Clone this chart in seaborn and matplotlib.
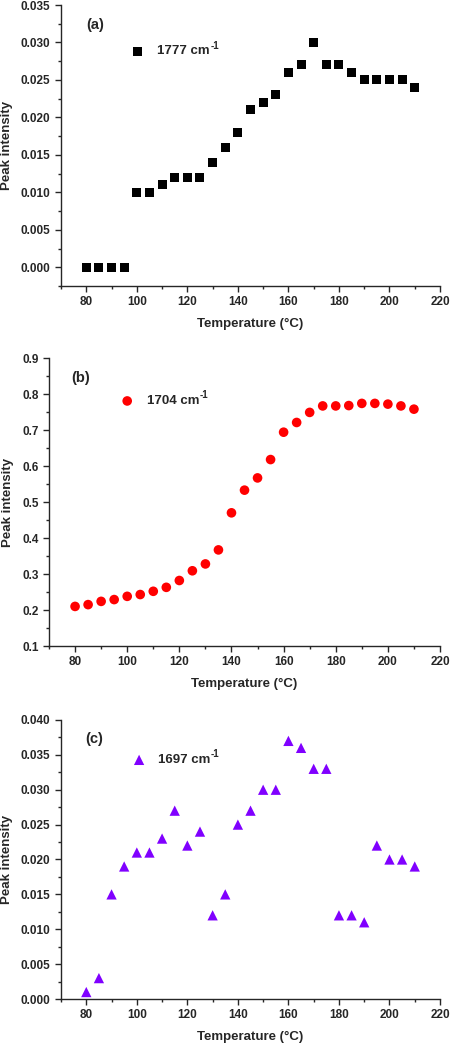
import numpy as np
import pandas as pd
import matplotlib
matplotlib.use("Agg")
import matplotlib.pyplot as plt
import seaborn as sns
from matplotlib.ticker import MultipleLocator, FormatStrFormatter
from matplotlib.transforms import offset_copy

# Data
temperature = [80, 85, 90, 95, 100, 105, 110, 115, 120, 125, 130, 135, 140, 145,
               150, 155, 160, 165, 170, 175, 180, 185, 190, 195, 200, 205, 210]
peak_1777 = [0.000, 0.000, 0.000, 0.000, 0.010, 0.010, 0.011, 0.012, 0.012, 0.012,
             0.014, 0.016, 0.018, 0.021, 0.022, 0.023, 0.026, 0.027, 0.030, 0.027,
             0.027, 0.026, 0.025, 0.025, 0.025, 0.025, 0.024]
peak_1704 = [0.210, 0.215, 0.224, 0.229, 0.238, 0.243, 0.252, 0.263, 0.282, 0.309,
             0.328, 0.367, 0.470, 0.533, 0.567, 0.618, 0.694, 0.721, 0.749, 0.767,
             0.767, 0.768, 0.774, 0.774, 0.772, 0.767, 0.758]
peak_1697 = [0.001, 0.003, 0.015, 0.019, 0.021, 0.021, 0.023, 0.027, 0.022, 0.024,
             0.012, 0.015, 0.025, 0.027, 0.030, 0.030, 0.037, 0.036, 0.033, 0.033,
             0.012, 0.012, 0.011, 0.022, 0.020, 0.020, 0.019]
wavenumbers = ['1777', '1704', '1697']
tags = ['(a)', '(b)', '(c)']

sns.set_style("ticks")
plt.rcParams['font.family'] = ['Liberation Sans', 'DejaVu Sans']
plt.rcParams['font.weight'] = 'bold'

fig = plt.figure(figsize=(4.5, 10.46), dpi=100)
renderer = fig.canvas.get_renderer()

# panel geometry (figure fractions), styles, label/legend positions
panels = [
    dict(rect=[0.1356, 0.7266, 0.8422, 0.2686], y=peak_1777, marker='s', color='black',
         s=42, ylim=(-0.0025, 0.035), major=0.005, minor=0.0025, fmt='%.3f',
         tagpos=(0.066, 0.929), legpos=(0.203, 0.836)),
    dict(rect=[0.1089, 0.3824, 0.8689, 0.2753], y=peak_1704, marker='o', color='#ff0000',
         s=48, ylim=(0.1, 0.9), major=0.1, minor=0.05, fmt='%.1f',
         tagpos=(0.058, 0.93), legpos=(0.2, 0.851)),
    dict(rect=[0.1356, 0.0449, 0.8422, 0.2668], y=peak_1697, marker='^', color='#8000ff',
         s=55, ylim=(0.0, 0.04), major=0.005, minor=0.0025, fmt='%.3f',
         tagpos=(0.063, 0.932), legpos=(0.206, 0.857)),
]

for p, wn, tag in zip(panels, wavenumbers, tags):
    ax = fig.add_axes(p['rect'])
    df = pd.DataFrame({'Temperature': temperature, 'Intensity': p['y']})
    sns.scatterplot(data=df, x='Temperature', y='Intensity', marker=p['marker'],
                    color=p['color'], s=p['s'], edgecolor='none', ax=ax, legend=False,
                    zorder=3, clip_on=False)
    ax.set_xlim(70, 220)
    ax.set_ylim(*p['ylim'])
    ax.xaxis.set_major_locator(MultipleLocator(20))
    ax.xaxis.set_minor_locator(MultipleLocator(10))
    ax.yaxis.set_major_locator(MultipleLocator(p['major']))
    ax.yaxis.set_minor_locator(MultipleLocator(p['minor']))
    ax.yaxis.set_major_formatter(FormatStrFormatter(p['fmt']))
    ax.tick_params(axis='both', which='major', length=4, width=1, labelsize=8.5, direction='out')
    ax.tick_params(axis='both', which='minor', length=2, width=1, direction='out')
    for lab in ax.get_xticklabels() + ax.get_yticklabels():
        lab.set_fontweight('bold')
    sns.despine(ax=ax)
    for sp in ['left', 'bottom']:
        ax.spines[sp].set_linewidth(1.0)
    ax.set_xlabel('Temperature (\u00b0C)', fontsize=9.5, fontweight='bold', labelpad=7)
    ax.set_ylabel('Peak intensity', fontsize=9.5, fontweight='bold', labelpad=6)
    ax.text(p['tagpos'][0], p['tagpos'][1], tag, transform=ax.transAxes,
            fontsize=10.5, fontweight='bold', va='center', ha='left')
    # legend entry drawn like Origin: marker, then text with a "-1" superscript
    ax.scatter([p['legpos'][0]], [p['legpos'][1]], transform=ax.transAxes, marker=p['marker'],
               color=p['color'], s=p['s'], edgecolor='none', clip_on=False)
    t = ax.text(p['legpos'][0] + 0.05, p['legpos'][1], wn + ' cm', transform=ax.transAxes,
                fontsize=9.5, fontweight='bold', va='center', ha='left')
    ext = t.get_window_extent(renderer=renderer)
    x_end, y_mid = ax.transAxes.inverted().transform((ext.x1, (ext.y0 + ext.y1) / 2))
    ax.text(x_end, y_mid, '-1', transform=offset_copy(ax.transAxes, fig=fig, x=0.5, y=4, units='points'),
            fontsize=7, fontweight='bold', va='center', ha='left')

fig.savefig('out.png', dpi=100)
